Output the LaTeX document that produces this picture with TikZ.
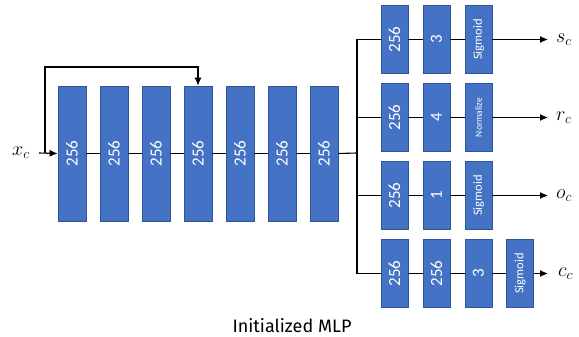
\RequirePackage{fix-cm}
\documentclass[tikz,border=0pt]{standalone}
\usepackage{fontspec}
\setmainfont{Carlito}
\newfontfamily\titlefont{Fira Sans}
\usetikzlibrary{arrows.meta,calc}
\definecolor{boxblue}{HTML}{4472C4}
\definecolor{boxedge}{HTML}{2F5597}
\tikzset{
  layer/.style={draw=boxedge, line width=0.7pt, fill=boxblue, text=white, inner sep=0pt, minimum width=28pt, minimum height=135pt},
  headbox/.style={draw=boxedge, line width=0.7pt, fill=boxblue, text=white, inner sep=0pt, minimum width=27pt, minimum height=68pt},
  conn/.style={line width=1.1pt, black},
  arr/.style={conn, -{Latex[length=8pt,width=7pt]}},
  outlab/.style={anchor=west, inner sep=0pt, font=\fontsize{20}{20}\selectfont}
}
\newcommand{\rt}[2]{\rotatebox{90}{\fontsize{#1}{#1}\selectfont #2}}
\begin{document}
\begin{tikzpicture}[x=1pt,y=-1pt]
\useasboundingbox (0,0) rectangle (579,337);
% main trunk
\foreach \i/\x in {1/72,2/114,3/156,4/198,5/240,6/282,7/324}{
  \node[layer] (b\i) at (\x,153.5) {\rt{17}{256}};
}
\node[outlab] (xc) at (12,153) {$x_c$};
\coordinate (xin) at (39,153);
\coordinate (fb) at (45,153);
\coordinate (fbtop) at (45,67);
\draw[arr] (xin) -- (b1.west);
\draw[arr] (fb) -- (fbtop) -| (b4.north);
\foreach \a/\b in {1/2,2/3,3/4,4/5,5/6,6/7}{
  \draw[conn] (b\a.east) -- (b\b.west);
}
\coordinate (sp) at (357,153);
\coordinate (sptop) at (357,39.5);
\coordinate (spbot) at (357,273.5);
\draw[conn] (b7.east) -- (sp);
% heads
\node[headbox] (s1) at (394.5,39.5) {\rt{17}{256}};
\node[headbox] (s2) at (436.5,39.5) {\rt{17}{3}};
\node[headbox] (s3) at (478.5,39.5) {\rt{12.5}{Sigmoid}};
\node[headbox] (r1) at (394.5,117.5) {\rt{17}{256}};
\node[headbox] (r2) at (436.5,117.5) {\rt{17}{4}};
\node[headbox] (r3) at (478.5,117.5) {\rt{9.5}{Normalize}};
\node[headbox] (o1) at (394.5,195.5) {\rt{17}{256}};
\node[headbox] (o2) at (436.5,195.5) {\rt{17}{1}};
\node[headbox] (o3) at (478.5,195.5) {\rt{12.5}{Sigmoid}};
\node[headbox] (c1) at (394.5,273.5) {\rt{17}{256}};
\node[headbox] (c2) at (436.5,273.5) {\rt{17}{256}};
\node[headbox] (c3) at (478.5,273.5) {\rt{17}{3}};
\node[headbox] (c4) at (520,273.5) {\rt{12.5}{Sigmoid}};
% branches
\draw[conn] (s1.west) -| (sptop) -- (spbot) -- (c1.west);
\draw[conn] (sp |- r1.west) -- (r1.west);
\draw[conn] (sp |- o1.west) -- (o1.west);
\foreach \p in {s,r,o}{
  \draw[conn] (\p1.east) -- (\p2.west);
  \draw[conn] (\p2.east) -- (\p3.west);
}
\draw[conn] (c1.east) -- (c2.west);
\draw[conn] (c2.east) -- (c3.west);
\draw[conn] (c3.east) -- (c4.west);
\node[outlab] (sc) at (556,39.5) {$s_c$};
\node[outlab] (rc) at (556,117.5) {$r_c$};
\node[outlab] (oc) at (556,195.5) {$o_c$};
\node[outlab] (cc) at (558,273.5) {$c_c$};
\draw[arr] (s3.east) -- ($(sc.west)+(-8,0)$);
\draw[arr] (r3.east) -- ($(rc.west)+(-8,0)$);
\draw[arr] (o3.east) -- ($(oc.west)+(-8,0)$);
\draw[arr] (c4.east) -- ($(cc.west)+(-10,0)$);
% caption
\node[font=\titlefont\fontsize{18}{18}\selectfont] (cap) at (292,326) {Initialized MLP};
\end{tikzpicture}
\end{document}
